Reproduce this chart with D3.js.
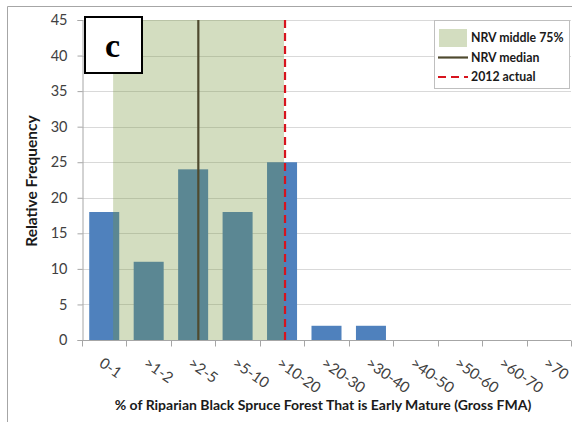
<!DOCTYPE html>
<html>
<head>
<meta charset="utf-8">
<script src="https://cdn.jsdelivr.net/npm/d3@7"></script>
<style>
  html, body { margin: 0; padding: 0; background: #fff; }
  svg { display: block; }
</style>
</head>
<body>
<svg id="chart" width="575" height="422"></svg>
<script>
// ---- data ----
const categories = ["0-1", ">1-2", ">2-5", ">5-10", ">10-20", ">20-30", ">30-40", ">40-50", ">50-60", ">60-70", ">70"];
const binEdges = [0, 1, 2, 5, 10, 20, 30, 40, 50, 60, 70, 80];
const frequency = [18, 11, 24, 18, 25, 2, 2, 0, 0, 0, 0];
const yTicks = [0, 5, 10, 15, 20, 25, 30, 35, 40, 45];
const nrvRange = [0.70, 15.44];   // NRV middle 75% (in % units)
const nrvMedian = 3.85;
const actual2012 = 15.67;
const legendLabels = ["NRV middle 75%", "NRV median", "2012 actual"];
const panelLabel = "c";
const xTitle = "% of Riparian Black Spruce Forest That is Early Mature (Gross FMA)";
const yTitle = "Relative Frequency";

(function () {
// ---- layout ----
const svg = d3.select("#chart");
const pL = 82, pR = 571, pT = 20, pB = 340;
const font = "Lato, 'Open Sans', sans-serif";

// outer frame (top and left)
svg.append("line").attr("x1", 7.5).attr("x2", 572).attr("y1", 6.5).attr("y2", 6.5).attr("stroke", "#a6a6a6");
svg.append("line").attr("x1", 7.5).attr("x2", 7.5).attr("y1", 6.5).attr("y2", 422).attr("stroke", "#a6a6a6");

const x = d3.scaleBand().domain(categories).range([pL, pR]).paddingInner(0.325).paddingOuter(0.1625);
const edgePx = binEdges.map((e, i) => pL + i * x.step());
const xv = d3.scaleLinear().domain(binEdges).range(edgePx);
const y = d3.scaleLinear().domain([0, 45]).range([pB, pT]);

// gridlines
svg.append("g").selectAll("line").data(yTicks.filter(d => d > 0)).join("line")
  .attr("x1", pL).attr("x2", pR)
  .attr("y1", d => Math.round(y(d)) + 0.5).attr("y2", d => Math.round(y(d)) + 0.5)
  .attr("stroke", "#d9d9d9");

// y axis
const yAxis = svg.append("g").attr("transform", `translate(${pL + 0.5},0)`)
  .call(d3.axisLeft(y).tickValues(yTicks).tickSize(5).tickPadding(10));
yAxis.select(".domain").attr("stroke", "#a6a6a6");
yAxis.selectAll(".tick line").attr("stroke", "#a6a6a6");
yAxis.selectAll(".tick text").attr("font-family", font).attr("font-size", 14.5).attr("fill", "#404040");

// bars
svg.append("g").selectAll("rect").data(frequency).join("rect")
  .attr("x", (d, i) => x(categories[i]))
  .attr("width", x.bandwidth())
  .attr("y", d => y(d))
  .attr("height", d => y(0) - y(d))
  .attr("fill", "#4f81bd");

// NRV middle 75% shading
svg.append("rect")
  .attr("x", xv(nrvRange[0])).attr("width", xv(nrvRange[1]) - xv(nrvRange[0]))
  .attr("y", y(45)).attr("height", y(0) - y(45))
  .attr("fill", "rgb(117,149,58)").attr("fill-opacity", 0.32);

// x axis
const xAxis = svg.append("g").attr("transform", `translate(0,${pB + 0.5})`);
xAxis.append("line").attr("x1", pL).attr("x2", pR).attr("stroke", "#a6a6a6");
xAxis.selectAll("line.tk").data(edgePx).join("line").attr("class", "tk")
  .attr("x1", d => Math.round(d) + 0.5).attr("x2", d => Math.round(d) + 0.5)
  .attr("y1", 0).attr("y2", 6).attr("stroke", "#a6a6a6");
xAxis.selectAll("text").data(categories).join("text")
  .attr("transform", d => `translate(${x(d) + x.bandwidth() / 2 - 6},${25}) rotate(35)`)
  .attr("font-family", font).attr("font-size", 15).attr("fill", "#404040")
  .attr("text-anchor", "start")
  .text(d => d);

// median line
svg.append("line")
  .attr("x1", xv(nrvMedian)).attr("x2", xv(nrvMedian))
  .attr("y1", y(45)).attr("y2", y(0))
  .attr("stroke", "#4f4a2f").attr("stroke-width", 2.2);

// 2012 actual
svg.append("line")
  .attr("x1", xv(actual2012)).attr("x2", xv(actual2012))
  .attr("y1", y(45)).attr("y2", y(0))
  .attr("stroke", "#d7141e").attr("stroke-width", 2.2).attr("stroke-dasharray", "8,5");

// axis titles
svg.append("text").attr("x", 323).attr("y", 410)
  .attr("text-anchor", "middle").attr("font-family", font).attr("font-weight", "bold")
  .attr("font-size", 14).attr("fill", "#1a1a1a").text(xTitle);
svg.append("text").attr("transform", `translate(37,${(pT + pB) / 2 + 1}) rotate(-90)`)
  .attr("text-anchor", "middle").attr("font-family", font).attr("font-weight", "bold")
  .attr("font-size", 15.5).attr("fill", "#1a1a1a").text(yTitle);

// panel label
svg.append("rect").attr("x", 85).attr("y", 17).attr("width", 57).attr("height", 56)
  .attr("fill", "#fff").attr("stroke", "#000").attr("stroke-width", 2);
svg.append("text").attr("x", 112.5).attr("y", 57).attr("text-anchor", "middle")
  .attr("font-family", "'Liberation Serif', 'DejaVu Serif', serif").attr("font-weight", "bold")
  .attr("font-size", 34).attr("fill", "#000").text(panelLabel);

// legend
const lg = svg.append("g");
lg.append("rect").attr("x", 434.5).attr("y", 20.5).attr("width", 135).attr("height", 68)
  .attr("fill", "#fff").attr("stroke", "#bfbfbf");
lg.append("rect").attr("x", 439).attr("y", 29).attr("width", 28).attr("height", 18)
  .attr("fill", "rgb(117,149,58)").attr("fill-opacity", 0.32);
lg.append("line").attr("x1", 438).attr("x2", 468).attr("y1", 57.5).attr("y2", 57.5)
  .attr("stroke", "#4f4a2f").attr("stroke-width", 2.2);
lg.append("line").attr("x1", 438).attr("x2", 468).attr("y1", 77).attr("y2", 77)
  .attr("stroke", "#d7141e").attr("stroke-width", 2.2).attr("stroke-dasharray", "8,5");
lg.selectAll("text").data(legendLabels).join("text")
  .attr("x", 471).attr("y", (d, i) => 42 + i * 19.5)
  .attr("font-family", font).attr("font-weight", "bold").attr("font-size", 12.3)
  .attr("fill", "#1a1a1a").text(d => d);
})();
</script>
</body>
</html>
